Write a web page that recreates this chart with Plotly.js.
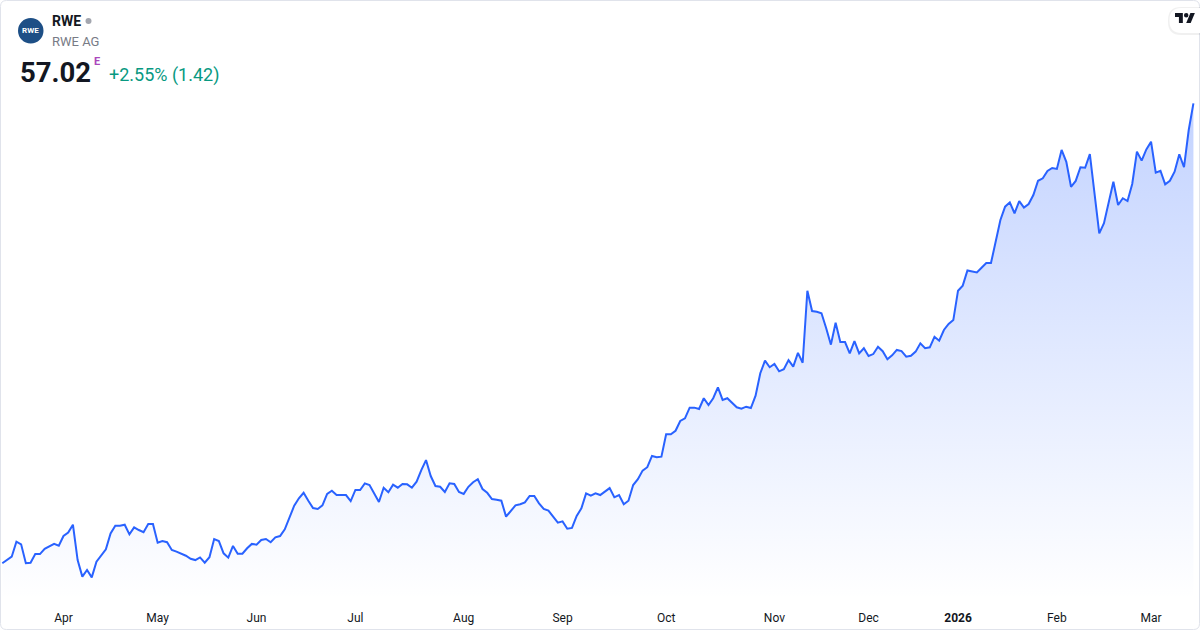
<!DOCTYPE html>
<html>
<head>
<meta charset="utf-8">
<script src="https://cdn.plot.ly/plotly-3.0.1.min.js"></script>
<style>
  html, body { margin: 0; padding: 0; background: #ffffff; }
  #chart { width: 1200px; height: 630px; }
</style>
</head>
<body>
<div id="chart"></div>
<script>
// ---- data (RWE AG, daily close, EUR, trading-day index) ----
const closes = [
  32.55,32.73,32.90,33.70,33.56,32.55,32.58,33.04,33.04,33.32,
  33.43,33.58,33.48,34.00,34.18,34.60,32.72,31.84,32.19,31.80,
  32.63,32.99,33.29,34.14,34.55,34.55,34.60,34.09,34.46,34.32,
  34.20,34.64,34.64,33.64,33.73,33.67,33.26,33.17,33.08,32.95,
  32.79,32.72,32.86,32.58,32.87,33.84,33.73,33.08,32.85,33.47,
  33.06,33.06,33.35,33.58,33.54,33.79,33.84,33.67,33.93,34.00,
  34.36,35.03,35.61,36.01,36.30,35.88,35.49,35.44,35.63,36.24,
  36.41,36.18,36.17,36.18,35.86,36.45,36.45,36.80,36.71,36.27,
  35.81,36.57,36.33,36.73,36.57,36.77,36.75,36.57,36.89,37.51,
  38.04,37.19,36.66,36.62,36.34,36.80,36.77,36.34,36.24,36.62,
  36.86,37.02,36.50,36.30,35.97,35.93,35.88,35.03,35.33,35.63,
  35.69,35.79,36.13,36.13,35.74,35.44,35.35,35.03,34.71,34.78,
  34.39,34.43,35.07,35.47,36.27,36.15,36.27,36.18,36.36,36.55,
  36.06,36.18,35.69,35.88,36.71,37.02,37.48,37.66,38.26,38.19,
  38.22,39.41,39.41,39.60,40.12,40.26,40.83,40.83,40.76,41.33,
  40.97,41.33,41.91,41.24,41.33,41.09,40.85,40.77,40.88,40.81,
  41.47,42.66,43.33,42.98,43.15,42.76,42.87,43.36,43.01,43.74,
  43.22,47.05,45.97,45.93,45.85,45.05,44.18,45.35,44.32,44.32,
  43.72,44.37,43.72,43.99,43.58,43.68,44.07,43.83,43.40,43.61,
  43.90,43.84,43.54,43.59,43.81,44.25,43.99,44.04,44.60,44.39,
  44.96,45.28,45.49,47.05,47.32,48.13,48.07,48.02,48.27,48.52,
  48.52,49.75,50.81,51.52,51.75,51.17,51.82,51.47,51.66,52.14,
  52.90,53.03,53.42,53.58,53.53,54.54,53.91,52.58,52.89,53.62,
  53.59,54.32,52.20,50.10,50.64,51.79,52.85,51.61,51.97,51.82,
  52.73,54.45,53.97,54.57,54.98,53.33,53.43,52.71,52.90,53.38,
  54.31,53.62,55.60,57.02
];
const monthTickIdx = [13, 33, 54, 75, 98, 119, 141, 164, 184, 203, 224, 244];
const monthTickLabels = ['Apr','May','Jun','Jul','Aug','Sep','Oct','Nov','Dec','<b>2026</b>','Feb','Mar'];
const symbol = 'RWE';
const companyName = 'RWE AG';
const lastPrice = '57.02';
const changeText = '+2.55% (1.42)';

// ---- layout helpers ----
const W = 1200, H = 630, MB = 30, PH = H - MB;
const px = x => x / W;
const py = y => 1 - y / PH;
const FONT = 'Roboto, "Liberation Sans", Arial, sans-serif';
const idx = closes.map((_, i) => i);

function roundRect(x0, y0, x1, y1, r) {
  return `M${px(x0 + r)},${py(y0)} L${px(x1 - r)},${py(y0)} Q${px(x1)},${py(y0)} ${px(x1)},${py(y0 + r)} ` +
         `L${px(x1)},${py(y1 - r)} Q${px(x1)},${py(y1)} ${px(x1 - r)},${py(y1)} ` +
         `L${px(x0 + r)},${py(y1)} Q${px(x0)},${py(y1)} ${px(x0)},${py(y1 - r)} ` +
         `L${px(x0)},${py(y0 + r)} Q${px(x0)},${py(y0)} ${px(x0 + r)},${py(y0)} Z`;
}
function poly(pts) {
  return 'M' + pts.map(p => `${px(p[0])},${py(p[1])}`).join(' L') + ' Z';
}
// TradingView logo glyph
const s = 0.56, ox = 1175, oy = 10.8;
const T = [[0,4],[14,4],[14,22],[7,22],[7,11],[0,11]].map(p => [ox + p[0]*s, oy + p[1]*s]);
const V = [[20,22],[28,22],[35.5,4],[27.5,4]].map(p => [ox + p[0]*s, oy + p[1]*s]);
const dot = [ox + 20*s, oy + 8*s, 4*s];

const trace = {
  x: idx,
  y: closes,
  type: 'scatter',
  mode: 'lines',
  line: { color: '#2962ff', width: 2 },
  fill: 'tozeroy',
  fillcolor: 'rgba(41,98,255,0.15)',
  fillgradient: {
    type: 'vertical',
    start: 30.6,
    stop: 57.02,
    colorscale: [[0, 'rgba(41,98,255,0.0)'], [1, 'rgba(41,98,255,0.28)']]
  },
  hoverinfo: 'skip'
};

const layout = {
  width: W, height: H,
  margin: { l: 0, r: 0, t: 0, b: MB, pad: 0 },
  paper_bgcolor: '#ffffff',
  plot_bgcolor: '#ffffff',
  showlegend: false,
  font: { family: FONT, color: '#131722' },
  xaxis: {
    range: [-2.3 / 4.708, (W - 2.3) / 4.708],
    tickmode: 'array',
    tickvals: monthTickIdx,
    ticktext: monthTickLabels,
    showgrid: false, zeroline: false, showline: false, ticks: '',
    ticklabelstandoff: 9,
    tickfont: { family: FONT, size: 12, color: '#131722' },
    fixedrange: true
  },
  yaxis: {
    range: [62.516 - 0.0532 * PH, 62.516],
    visible: false, showgrid: false, zeroline: false,
    fixedrange: true
  },
  shapes: [
    // panel border
    { type: 'path', xref: 'paper', yref: 'paper', path: roundRect(0.5, 0.5, 1199.5, 629.5, 6),
      line: { color: '#e0e3eb', width: 1 }, fillcolor: 'rgba(0,0,0,0)', layer: 'above' },
    // logo circle
    { type: 'circle', xref: 'paper', yref: 'paper',
      x0: px(18), x1: px(43.5), y0: py(43.5), y1: py(18),
      fillcolor: '#1d4f86', line: { width: 0 } },
    // status dot
    { type: 'circle', xref: 'paper', yref: 'paper',
      x0: px(85.5), x1: px(91.5), y0: py(24), y1: py(18),
      fillcolor: '#a3a6af', line: { width: 0 } },
    // TV pill shadow + pill
    { type: 'path', xref: 'paper', yref: 'paper', path: roundRect(1168, 7, 1212, 35, 13),
      fillcolor: 'rgba(0,0,0,0.06)', line: { width: 0 } },
    { type: 'path', xref: 'paper', yref: 'paper', path: roundRect(1169.5, 8, 1212, 33, 12),
      fillcolor: '#ffffff', line: { width: 0 } },
    { type: 'path', xref: 'paper', yref: 'paper', path: poly(T), fillcolor: '#131722', line: { width: 0 } },
    { type: 'path', xref: 'paper', yref: 'paper', path: poly(V), fillcolor: '#131722', line: { width: 0 } },
    { type: 'circle', xref: 'paper', yref: 'paper',
      x0: px(dot[0] - dot[2]), x1: px(dot[0] + dot[2]), y0: py(dot[1] + dot[2]), y1: py(dot[1] - dot[2]),
      fillcolor: '#131722', line: { width: 0 } }
  ],
  annotations: [
    { xref: 'paper', yref: 'paper', x: px(30.7), y: py(30.7), xanchor: 'center', yanchor: 'middle',
      text: '<b>' + symbol + '</b>', showarrow: false, font: { family: FONT, size: 8, color: '#ffffff' } },
    { xref: 'paper', yref: 'paper', x: px(50), y: py(21), xanchor: 'left', yanchor: 'middle',
      text: '<b>' + symbol + '</b>', showarrow: false, font: { family: FONT, size: 14, color: '#131722' } },
    { xref: 'paper', yref: 'paper', x: px(50), y: py(41), xanchor: 'left', yanchor: 'middle',
      text: companyName, showarrow: false, font: { family: FONT, size: 13, color: '#787b86' } },
    { xref: 'paper', yref: 'paper', x: px(18), y: py(72), xanchor: 'left', yanchor: 'middle',
      text: '<b>' + lastPrice + '</b>', showarrow: false, font: { family: FONT, size: 27.5, color: '#131722' } },
    { xref: 'paper', yref: 'paper', x: px(91.5), y: py(62), xanchor: 'left', yanchor: 'middle',
      text: '<b>E</b>', showarrow: false, font: { family: FONT, size: 11, color: '#ab47bc' } },
    { xref: 'paper', yref: 'paper', x: px(107), y: py(75), xanchor: 'left', yanchor: 'middle',
      text: changeText, showarrow: false, font: { family: FONT, size: 18, color: '#089981' } }
  ]
};

Plotly.newPlot('chart', [trace], layout, { staticPlot: true, displayModeBar: false });
</script>
</body>
</html>
